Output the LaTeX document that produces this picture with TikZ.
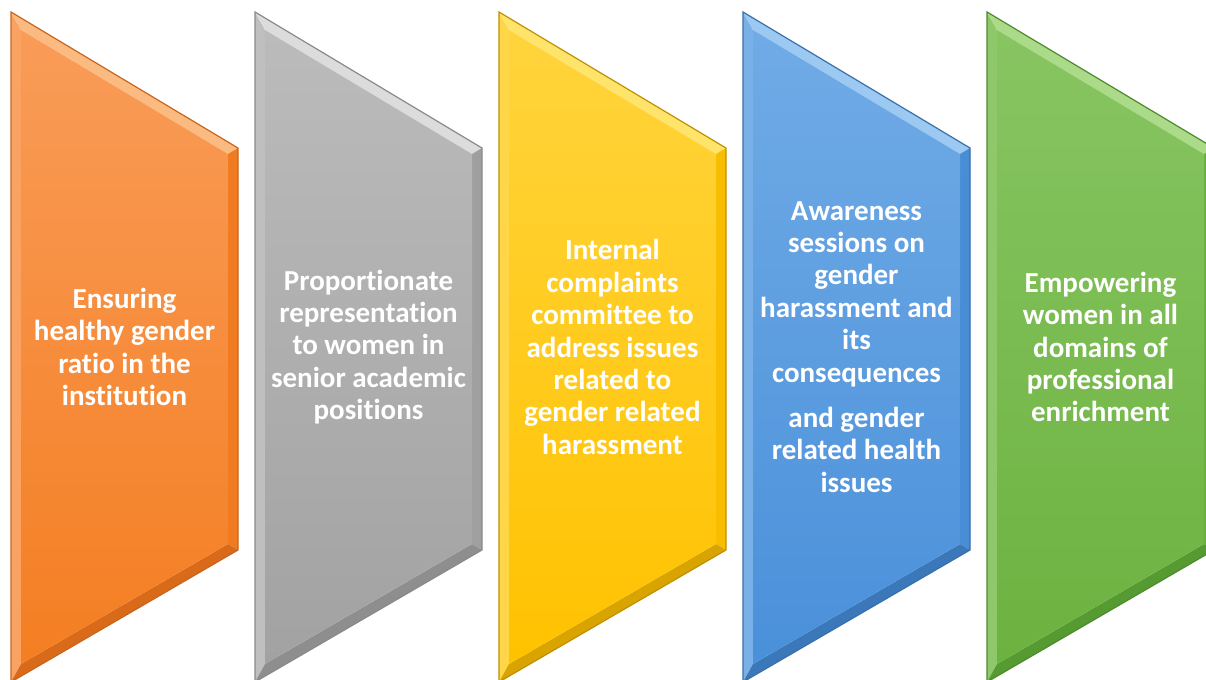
\documentclass[tikz,border=0pt]{standalone}
\usepackage{fontspec}
\setmainfont{Carlito}[Ligatures=CommonOff]
\definecolor{oedge}{HTML}{C8651E}\definecolor{otop}{HTML}{F99C58}\definecolor{obot}{HTML}{F47E22}\definecolor{ohl}{HTML}{FDD09A}\definecolor{osh}{HTML}{D86A1A}
\definecolor{gedge}{HTML}{8A8A8A}\definecolor{gtop}{HTML}{BBBBBB}\definecolor{gbot}{HTML}{A2A2A2}\definecolor{ghl}{HTML}{F2F2F2}\definecolor{gsh}{HTML}{8E8E8E}
\definecolor{yedge}{HTML}{BF9000}\definecolor{ytop}{HTML}{FFD43C}\definecolor{ybot}{HTML}{FFC200}\definecolor{yhl}{HTML}{FFEE8A}\definecolor{ysh}{HTML}{D9A400}
\definecolor{bedge}{HTML}{3A70A8}\definecolor{btop}{HTML}{70ABE6}\definecolor{bbot}{HTML}{4A90DA}\definecolor{bhl}{HTML}{BADDF8}\definecolor{bsh}{HTML}{3A78BA}
\definecolor{ledge}{HTML}{4F8A30}\definecolor{ltop}{HTML}{88C562}\definecolor{lbot}{HTML}{6CB240}\definecolor{lhl}{HTML}{C2E7A2}\definecolor{lsh}{HTML}{569B31}
\tikzset{
  txt/.style={text=white, align=center, font=\bfseries\fontsize{14.5}{16.2}\selectfont, inner sep=0pt},
}
\newcommand\mychev[6]{%
\begin{scope}[shift={(#1,0)}]
  \fill[#3!94!white] (0,12) -- (0,682) -- (10,664) -- (10,30) -- cycle;
  \fill[#5!60!#3] (0,12) -- (227,148) -- (217,154) -- (10,30) -- cycle;
  \fill[#4!85!#6] (227,148) -- (227,550) -- (217,544) -- (217,154) -- cycle;
  \fill[#6] (0,682) -- (227,550) -- (217,544) -- (10,664) -- cycle;
  \shade[top color=#3, bottom color=#4] (10,30) -- (217,154) -- (217,544) -- (10,664) -- cycle;
  \draw[#2, line width=0.6pt] (0,12) -- (227,148) -- (227,550) -- (0,682) -- cycle;
\end{scope}}
\begin{document}
\begin{tikzpicture}[x=0.5pt,y=-0.5pt]
\useasboundingbox (0,0) rectangle (1206,680);
\mychev{11}{oedge}{otop}{obot}{ohl}{osh}
\mychev{255}{gedge}{gtop}{gbot}{ghl}{gsh}
\mychev{499}{yedge}{ytop}{ybot}{yhl}{ysh}
\mychev{743}{bedge}{btop}{bbot}{bhl}{bsh}
\mychev{987}{ledge}{ltop}{lbot}{lhl}{lsh}
\node[txt] (t1) at (124.5,347) {Ensuring\\healthy gender\\ratio in the\\institution};
\node[txt] (t2) at (368.5,347) {Proportionate\\representation\\to women in\\senior academic\\positions};
\node[txt] (t3) at (612.5,347) {Internal\\complaints\\committee to\\address issues\\related to\\gender related\\harassment};
\node[txt] (t4) at (856.5,347) {Awareness\\sessions on\\gender\\harassment and\\its\\consequences\\[6.5pt]and gender\\related health\\issues};
\node[txt] (t5) at (1100.5,347) {Empowering\\women in all\\domains of\\professional\\enrichment};
\end{tikzpicture}
\end{document}
